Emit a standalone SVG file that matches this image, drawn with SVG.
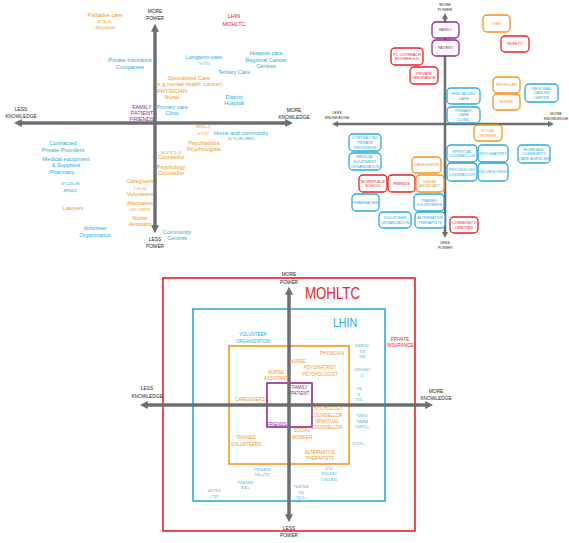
<svg xmlns="http://www.w3.org/2000/svg" width="569" height="543" viewBox="0 0 569 543">
<defs>
<style>
text{font-family:"Liberation Sans",Arial,sans-serif;text-anchor:middle}
.ax{stroke:#6d6e71;fill:none}
.o{fill:#f7941d}.b{fill:#27aae1}.p{fill:#92278f}.r{fill:#ed1c24}.k{fill:#231f20}
.f1{font-size:5.6px}.fs{font-size:4.2px}.fb{font-size:3.8px}.f3{font-size:4.5px}.fa{font-size:4.8px}.fg{font-size:4px}
.box{fill:#fff;stroke-width:1.3}
.so{stroke:#f7941d}.sb{stroke:#27aae1}.sp{stroke:#92278f}.sr{stroke:#ed1c24}
.frame{fill:none;stroke-width:1.6}
</style>
<marker id="ah" viewBox="0 0 10 10" refX="1" refY="5" markerUnits="userSpaceOnUse" markerWidth="8" markerHeight="8" orient="auto-start-reverse"><path d="M0,0L10,5L0,10z" fill="#6d6e71"/></marker>
<marker id="ahs" viewBox="0 0 10 10" refX="1" refY="5" markerUnits="userSpaceOnUse" markerWidth="6" markerHeight="6" orient="auto-start-reverse"><path d="M0,0L10,5L0,10z" fill="#6d6e71"/></marker>
</defs>
<rect width="569" height="543" fill="#fff"/>

<!-- Panel 1 -->
<g id="connectors">
<line class="ax" x1="155" y1="31" x2="155" y2="226" stroke-width="3.5" marker-start="url(#ah)" marker-end="url(#ah)"/>
<line class="ax" x1="21" y1="123" x2="286" y2="123" stroke-width="3.5" marker-start="url(#ah)" marker-end="url(#ah)"/>
<line class="ax" x1="445" y1="18.4" x2="445" y2="232.6" stroke-width="2.6" marker-start="url(#ahs)" marker-end="url(#ahs)"/>
<line class="ax" x1="337.4" y1="124" x2="548.6" y2="124" stroke-width="2.6" marker-start="url(#ahs)" marker-end="url(#ahs)"/>
</g>

<g id="panel1-labels">
<text class="k fa" x="155" y="13">MORE</text><text class="k fa" x="155" y="19.5">POWER</text>
<text class="k fa" x="21" y="111">LESS</text><text class="k fa" x="21" y="118">KNOWLEDGE</text>
<text class="k fa" x="294" y="112">MORE</text><text class="k fa" x="294" y="119">KNOWLEDGE</text>
<text class="k fa" x="155" y="241">LESS</text><text class="k fa" x="155" y="248">POWER</text>
</g>
<g id="panel1-items">
<text class="o f1" x="105" y="17">Palliative care</text>
<text class="o fs" x="105" y="23">&amp;*"$+%'</text>
<text class="o fs" x="105" y="29">J6/5)J6345</text>
<text class="r f1" x="234" y="18">LHIN</text>
<text class="r f1" x="234" y="26">MOHLTC</text>
<text class="b f1" x="130" y="62">Private Insurance</text>
<text class="b f1" x="130" y="69">Companies</text>
<text class="b f1" x="204" y="59">Longterm-care</text>
<text class="b fs" x="204" y="65">%*15</text>
<text class="b f1" x="266" y="55">Hospice care</text>
<text class="b f1" x="266" y="62">Regional Cancer</text>
<text class="b f1" x="266" y="68">Centres</text>
<text class="b f1" x="234" y="74">Tertiary Care</text>
<text class="o f1" x="189" y="80">Specialized Care</text>
<text class="o f1" x="189" y="86">(e.g mental health, cancer)</text>
<text class="o f1" x="172" y="93">PHYSICIAN</text>
<text class="o f1" x="172" y="99">Nurse</text>
<text class="b f1" x="234" y="99">District</text>
<text class="b f1" x="234" y="105">Hospital</text>
<text class="p f1" x="142" y="109">FAMILY</text>
<text class="p f1" x="142" y="115">PATIENT</text>
<text class="p f1" x="142" y="121">FRIENDS</text>
<text class="b f1" x="172" y="109">Primary care</text>
<text class="b f1" x="172" y="115">Clinic</text>
<text class="o fs" x="203" y="128">8694+3</text>
<text class="o fs" x="203" y="135">.0*C5*</text>
<text class="b f1" x="241" y="135">Home and community</text>
<text class="b fs" x="241" y="140">9+*5+85-9855</text>
<text class="o f1" x="204" y="145">Psychiatrists</text>
<text class="o f1" x="204" y="151">Psychologists</text>
<text class="o fs" x="171" y="154">B24*8*1+3</text>
<text class="o f1" x="171" y="159">Counsellor</text>
<text class="o f1" x="171" y="169">Psychology</text>
<text class="o f1" x="171" y="175">Counsellor</text>
<text class="b f1" x="63" y="145">Contracted</text>
<text class="b f1" x="63" y="152">Private Providers</text>
<text class="b f1" x="66" y="161">Medical equipment</text>
<text class="b f1" x="66" y="167">&amp; Suppliers</text>
<text class="b f1" x="62" y="174">Pharmacy</text>
<text class="b fs" x="70" y="185">.6*C23+95</text>
<text class="b fs" x="70" y="192">89)663</text>
<text class="o f1" x="73" y="210">Lawyers</text>
<text class="b f1" x="95" y="230">Volunteer</text>
<text class="b f1" x="95" y="237">Organization</text>
<text class="o f1" x="140" y="183">Caregivers</text>
<text class="o fs" x="140" y="190">7+8-54'</text>
<text class="o f1" x="140" y="196">Volunteers</text>
<text class="o f1" x="140" y="205">Alternative</text>
<text class="o fs" x="140" y="211">(15"+285*5</text>
<text class="o f1" x="140" y="220">Nurse</text>
<text class="o f1" x="140" y="226">Assistant</text>
<text class="b f1" x="177" y="234">Community</text>
<text class="b f1" x="177" y="240">Centres</text>
</g>

<!-- Panel 2 -->
<g id="panel2-labels">
<text class="k fb" x="445" y="6">MORE</text><text class="k fb" x="445" y="11">POWER</text>
<text class="k fb" x="337" y="113.5">LESS</text><text class="k fb" x="337" y="119">KNOWLEDGE</text>
<text class="k fb" x="556" y="115">MORE</text><text class="k fb" x="556" y="120">KNOWLEDGE</text>
<text class="k fb" x="445" y="243.5">LESS</text><text class="k fb" x="445" y="249">POWER</text>
</g>
<g id="n-family"><rect class="box sp" x="432" y="22" width="27" height="16" rx="4"/><text class="p fb" x="445.5" y="31.4">FAMILY</text></g>
<g id="n-patient"><rect class="box sp" x="432" y="40" width="27" height="16" rx="4"/><text class="p fb" x="445.5" y="49.4">PATIENT</text></g>
<g id="n-pcoutreach"><rect class="box sr" x="391" y="48" width="32" height="17" rx="4"/><text class="r fb" x="407" y="55.5">PC OUTREACH</text><text class="r fb" x="407" y="60.3">HOUSEHOLD</text></g>
<g id="n-privins"><rect class="box sr" x="410" y="67" width="28" height="17" rx="4"/><text class="r fb" x="424" y="74.5">PRIVATE</text><text class="r fb" x="424" y="79.3">INSURANCE</text></g>
<g id="n-lhin"><rect class="box so" x="483" y="15" width="27" height="17" rx="4"/><text class="o fb" x="496.5" y="24.9">LHIN</text></g>
<g id="n-mohltc"><rect class="box sr" x="501" y="36" width="28" height="16" rx="4"/><text class="r fb" x="515" y="45.4">MOHLTC</text></g>
<g id="n-physician"><rect class="box so" x="493" y="77" width="27" height="16" rx="4"/><text class="o fb" x="506.5" y="86.4">PHYSICIAN</text></g>
<g id="n-nurse"><rect class="box so" x="493" y="94" width="27" height="16" rx="4"/><text class="o fb" x="506.5" y="103.4">NURSE</text></g>
<g id="n-regional"><rect class="box sb" x="525" y="84" width="33" height="18" rx="4"/><text class="b fb" x="541.5" y="89.6">REGIONAL</text><text class="b fb" x="541.5" y="94.4">CANCER</text><text class="b fb" x="541.5" y="99.2">CENTRE</text></g>
<g id="n-specialized"><rect class="box sb" x="447" y="88" width="33" height="16" rx="4"/><text class="b fb" x="463.5" y="95">SPECIALIZED</text><text class="b fb" x="463.5" y="99.8">CARE</text></g>
<g id="n-primary"><rect class="box sb" x="447" y="107" width="33" height="16" rx="4"/><text class="b fb" x="463.5" y="111.6">PRIMARY</text><text class="b fb" x="463.5" y="116.4">CARE</text><text class="b fb" x="463.5" y="121.2">CLINIC</text></g>
<g id="n-social"><rect class="box so" x="474" y="125" width="28" height="16" rx="4"/><text class="o fb" x="488" y="132">SOCIAL</text><text class="o fb" x="488" y="136.8">WORKER</text></g>
<g id="n-spiritual"><rect class="box sb" x="447" y="145" width="30" height="17" rx="4"/><text class="b fb" x="462" y="152.5">SPIRITUAL</text><text class="b fb" x="462" y="157.3">COUNSELLOR</text></g>
<g id="n-psychiatrist"><rect class="box sb" x="478" y="145" width="30" height="17" rx="4"/><text class="b fb" x="493" y="154.9">PSYCHIATRIST</text></g>
<g id="n-homecare"><rect class="box sb" x="518" y="145" width="32" height="18" rx="4"/><text class="b fb" x="534" y="150.6">HOME AND</text><text class="b fb" x="534" y="155.4">COMMUNITY</text><text class="b fb" x="534" y="160.2">CARE AGENCIES</text></g>
<g id="n-psychcouns"><rect class="box sb" x="447" y="163" width="30" height="18" rx="4"/><text class="b fb" x="462" y="171">PSYCHOLOGY</text><text class="b fb" x="462" y="175.8">COUNSELLOR</text></g>
<g id="n-psychologist"><rect class="box sb" x="478" y="163" width="30" height="18" rx="4"/><text class="b fb" x="493" y="173.4">PSYCHOLOGIST</text></g>
<g id="n-commcentres"><rect class="box sr" x="450" y="217" width="28" height="16" rx="4"/><text class="r fb" x="464" y="224">COMMUNITY</text><text class="r fb" x="464" y="228.8">CENTRES</text></g>
<g id="n-contracted"><rect class="box sb" x="349" y="134" width="32" height="17" rx="4"/><text class="b fb" x="365" y="139.1">CONTRACTED</text><text class="b fb" x="365" y="143.9">PRIVATE</text><text class="b fb" x="365" y="148.7">PROVIDERS</text></g>
<g id="n-medical"><rect class="box sb" x="349" y="153" width="32" height="17" rx="4"/><text class="b fb" x="365" y="158.1">MEDICAL</text><text class="b fb" x="365" y="162.9">EQUIPMENT</text><text class="b fb" x="365" y="167.7">ORGANIZATION</text></g>
<g id="n-caregivers"><rect class="box so" x="412" y="157" width="29" height="16" rx="4"/><text class="o fb" x="426.5" y="166.4">CAREGIVERS</text></g>
<g id="n-workplace"><rect class="box sr" x="359" y="175" width="28" height="17" rx="4"/><text class="r fb" x="373" y="182.5">WORKPLACE</text><text class="r fb" x="373" y="187.3">SCHOOL</text></g>
<g id="n-friends"><rect class="box sr" x="388" y="175" width="27" height="17" rx="4"/><text class="r fb" x="401.5" y="184.9">FRIENDS</text></g>
<g id="n-nurseassist"><rect class="box so" x="416" y="175" width="28" height="17" rx="4"/><text class="o fb" x="430" y="182.5">NURSE</text><text class="o fb" x="430" y="187.3">ASSISTANT</text></g>
<g id="n-pharmacies"><rect class="box sb" x="352" y="194" width="27" height="17" rx="4"/><text class="b fb" x="365.5" y="203.9">PHARMACIES</text></g>
<g id="n-trained"><rect class="box sb" x="414" y="194" width="30" height="17" rx="4"/><text class="b fb" x="429" y="201.5">TRAINED</text><text class="b fb" x="429" y="206.3">VOLUNTEERS</text></g>
<g id="n-volorg"><rect class="box sb" x="379" y="212" width="32" height="16" rx="4"/><text class="b fb" x="395" y="219">VOLUNTEER</text><text class="b fb" x="395" y="223.8">ORGANIZATION</text></g>
<g id="n-alternative"><rect class="box sb" x="415" y="212" width="30" height="16" rx="4"/><text class="b fb" x="430" y="219">ALTERNATIVE</text><text class="b fb" x="430" y="223.8">THERAPISTS</text></g>

<!-- Panel 3 -->
<g id="n-mohltc-frame"><rect class="frame sr" x="163" y="278" width="252" height="253"/><text class="r" x="305" y="299" style="font-size:17px;text-anchor:start" textLength="55" lengthAdjust="spacingAndGlyphs">MOHLTC</text></g>
<g id="n-lhin-frame"><rect class="frame sb" x="193" y="309" width="192" height="192"/><text class="b" x="333" y="327" style="font-size:12.6px;text-anchor:start" textLength="24" lengthAdjust="spacingAndGlyphs">LHIN</text></g>
<g id="n-orange-frame"><rect class="frame so" x="229" y="346" width="120" height="118"/></g>
<g id="n-purple-frame"><rect class="frame sp" x="267" y="383" width="45" height="44"/></g>
<g id="connectors-bottom">
<line class="ax" x1="289" y1="294" x2="289" y2="515" stroke-width="3.5" marker-start="url(#ah)" marker-end="url(#ah)"/>
<line class="ax" x1="147" y1="405" x2="426" y2="405" stroke-width="3.5" marker-start="url(#ah)" marker-end="url(#ah)"/>
</g>
<g id="panel3-labels">
<text class="k fa" x="289" y="276">MORE</text><text class="k fa" x="289" y="283.5">POWER</text>
<text class="k fa" x="147" y="390">LESS</text><text class="k fa" x="147" y="398">KNOWLEDGE</text>
<text class="k fa" x="436" y="393">MORE</text><text class="k fa" x="436" y="400">KNOWLEDGE</text>
<text class="k fa" x="289" y="530">LESS</text><text class="k fa" x="289" y="537">POWER</text>
</g>
<g id="panel3-items">
<text class="b f3" x="253" y="336">VOLUNTEER</text><text class="b f3" x="253" y="343">ORGANIZATION</text>
<text class="r f3" x="400" y="341">PRIVATE</text><text class="r f3" x="400" y="347">INSURANCE</text>
<text class="o f3" x="332" y="355">PHYSICIAN</text>
<text class="o f3" x="298" y="363">NURSE</text>
<text class="o f3" x="320" y="369">PSYCHIATRIST</text><text class="o f3" x="320" y="376">PSYCHOLOGIST</text>
<text class="o f3" x="276" y="374">NURSE</text><text class="o f3" x="276" y="380">ASSISTANT</text>
<text class="o f3" x="250" y="401">CAREGIVERS</text>
<text class="p f3" x="300" y="389">FAMILY</text><text class="p f3" x="300" y="395">PATIENT</text>
<text class="p f3" x="277" y="426">FRIENDS</text>
<text class="o f3" x="327" y="410">PSYCHOLOGY</text><text class="o f3" x="327" y="417">COUNSELLOR</text><text class="o f3" x="327" y="423">SPIRITUAL</text><text class="o f3" x="327" y="429">COUNSELLOR</text>
<text class="o f3" x="302" y="432">SOCIAL</text><text class="o f3" x="302" y="439">WORKER</text>
<text class="o f3" x="246" y="439">TRAINED</text><text class="o f3" x="246" y="446">VOLUNTEERS</text>
<text class="o f3" x="320" y="454">ALTERNATIVE</text><text class="o f3" x="320" y="460">THERAPISTS</text>
<text class="b fg" x="362" y="347">%3/5/1#</text><text class="b fg" x="362" y="353">'3'3'</text><text class="b fg" x="362" y="358">'741'</text>
<text class="b fg" x="362" y="371">#6%5/6#</text><text class="b fg" x="362" y="377">'1'</text>
<text class="b fg" x="359" y="390">7/4</text><text class="b fg" x="359" y="396">'1'</text><text class="b fg" x="359" y="401">'5'5'</text>
<text class="b fg" x="362" y="417">*5/6/1#</text><text class="b fg" x="362" y="423">*5/6/64</text><text class="b fg" x="362" y="428">'1/(6'1)+</text>
<text class="b fg" x="358" y="445">*5'7/5+</text>
<text class="b fg" x="329" y="470">2/'5#</text><text class="b fg" x="329" y="475">(9%/1/6#</text><text class="b fg" x="329" y="481">5'3'(1/8/1</text>
<text class="b fg" x="301" y="488">*5/4/'6/4</text><text class="b fg" x="301" y="494">'('6/</text><text class="b fg" x="301" y="499">/'5)'1+</text>
<text class="b fg" x="262" y="471">7*6%4/3#</text><text class="b fg" x="262" y="476">'5%+(*5/'</text>
<text class="b fg" x="245" y="484">*5/6/1/64</text><text class="b fg" x="245" y="489">'3'4/+</text>
<text class="b fg" x="214" y="492">457/3'1</text><text class="b fg" x="214" y="498">+*5/1</text>
</g>
</svg>
